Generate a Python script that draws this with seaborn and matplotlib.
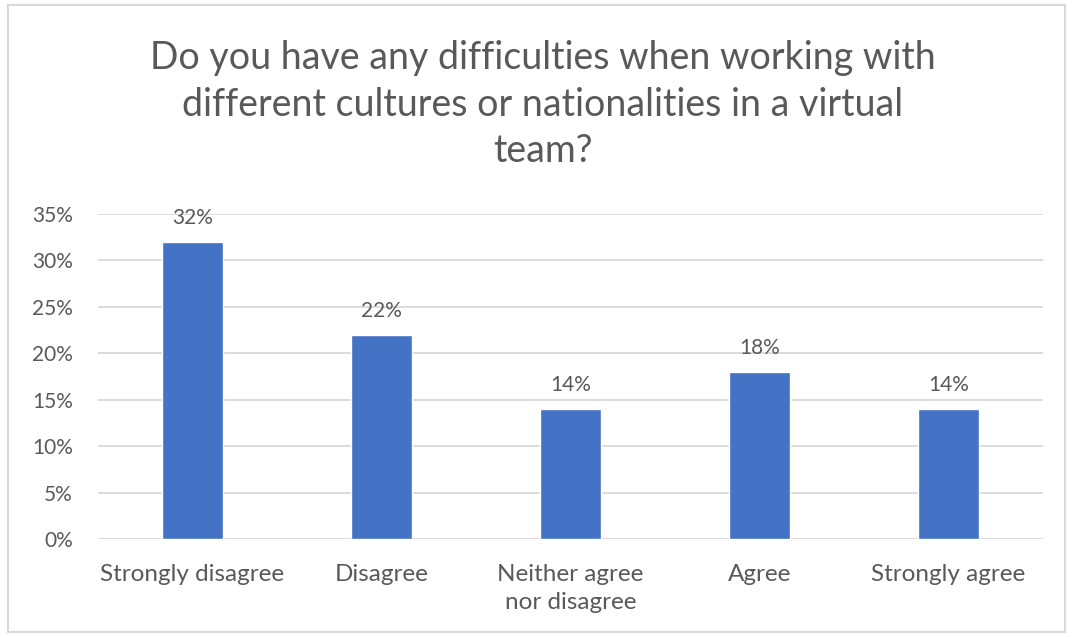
import matplotlib
matplotlib.use("Agg")
import matplotlib.pyplot as plt
import seaborn as sns
import pandas as pd
from matplotlib.patches import Rectangle
from matplotlib.ticker import FuncFormatter, MultipleLocator

categories = ["Strongly disagree", "Disagree", "Neither agree\nnor disagree", "Agree", "Strongly agree"]
shares = [32, 22, 14, 18, 14]
title = "Do you have any difficulties when working with\ndifferent cultures or nationalities in a virtual\nteam?"

sns.set_theme(style="white")
plt.rcParams["font.family"] = ["Lato", "DejaVu Sans"]

text_color = "#595959"
bar_color = "#4472C4"
grid_color = "#D9D9D9"

df = pd.DataFrame({"category": categories, "share": shares})

fig = plt.figure(figsize=(10.72, 6.37), dpi=100)
ax = fig.add_axes([98 / 1072, 1 - 539 / 637, 945 / 1072, 325 / 637])

sns.barplot(data=df, x="category", y="share", color=bar_color, width=0.32,
            saturation=1, ax=ax, zorder=3)

ax.set_ylim(0, 35)
ax.set_xlim(-0.5, len(categories) - 0.5)
ax.yaxis.set_major_locator(MultipleLocator(5))
ax.yaxis.set_major_formatter(FuncFormatter(lambda v, _: f"{v:.0f}%"))
ax.grid(axis="y", color=grid_color, linewidth=1.3, zorder=0)
for s in ax.spines.values():
    s.set_visible(False)
ax.set_xlabel("")
ax.set_ylabel("")
ax.tick_params(axis="both", length=0, colors=text_color)
ax.tick_params(axis="x", labelsize=17.5, pad=18)
ax.tick_params(axis="y", labelsize=15, pad=18)
for lbl in ax.get_xticklabels():
    lbl.set_linespacing(1.4)

for i, v in enumerate(shares):
    ax.annotate(f"{v}%", (i, v), xytext=(0, 17), textcoords="offset points",
                ha="center", va="center", fontsize=15, color=text_color)

fig.text(543 / 1072, 1 - 104.5 / 637, title, ha="center", va="center",
         fontsize=27, color=text_color, linespacing=1.37)

fig.patches.append(Rectangle((8 / 1072, 5 / 637), 1057 / 1072, 627 / 637,
                             transform=fig.transFigure, fill=False,
                             edgecolor="#D9D9D9", linewidth=1.5))

fig.savefig("out.png", dpi=100, facecolor="white")
